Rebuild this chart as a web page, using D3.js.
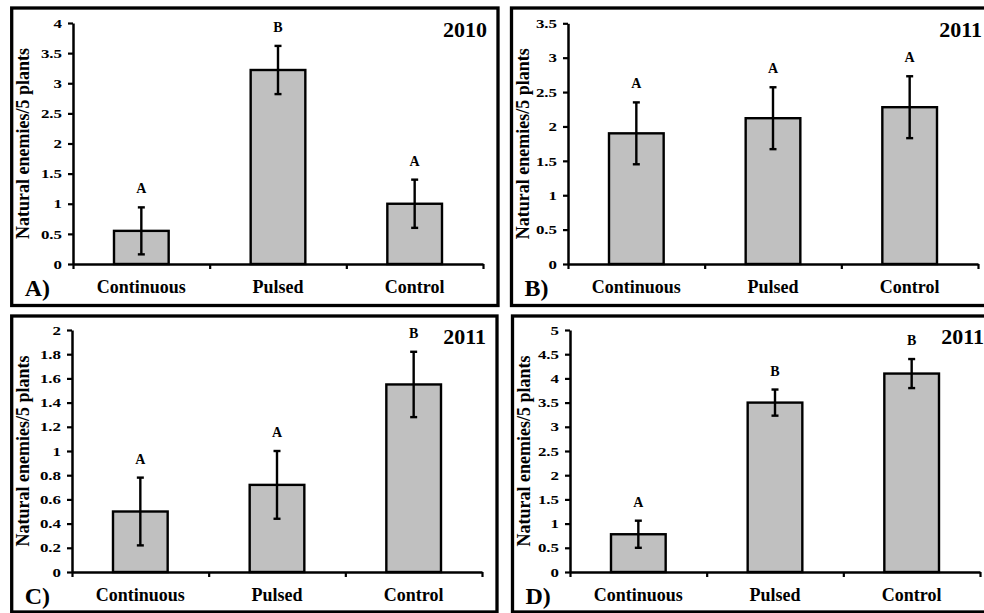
<!DOCTYPE html>
<html>
<head>
<meta charset="utf-8">
<script src="https://cdn.jsdelivr.net/npm/d3@7"></script>
<style>
  html, body { margin: 0; padding: 0; background: #fff; }
  svg { display: block; }
  text { font-family: "Liberation Serif", "Times New Roman", serif; font-weight: bold; fill: #000; }
</style>
</head>
<body>
<svg id="chart" width="984" height="613"></svg>
<script>
// Natural enemies per 5 plants under three release treatments
const categories = ["Continuous", "Pulsed", "Control"];
const panelLabels = ["A)", "B)", "C)", "D)"];
const panelYears = ["2010", "2011", "2011", "2011"];
const yTicks = [
  [0, 0.5, 1, 1.5, 2, 2.5, 3, 3.5, 4],
  [0, 0.5, 1, 1.5, 2, 2.5, 3, 3.5],
  [0, 0.2, 0.4, 0.6, 0.8, 1, 1.2, 1.4, 1.6, 1.8, 2],
  [0, 0.5, 1, 1.5, 2, 2.5, 3, 3.5, 4, 4.5, 5]
];
const meansA = [0.55, 3.22, 1.0];
const meansB = [1.9, 2.12, 2.28];
const meansC = [0.5, 0.72, 1.55];
const meansD = [0.78, 3.5, 4.1];
const errA = [0.39, 0.4, 0.4];
const errB = [0.45, 0.45, 0.45];
const errC = [0.28, 0.28, 0.27];
const errD = [0.28, 0.27, 0.3];
const lettersA = ["A", "B", "A"];
const lettersB = ["A", "A", "A"];
const lettersC = ["A", "A", "B"];
const lettersD = ["A", "B", "B"];
const yLabel = "Natural enemies/5 plants";

const means = [meansA, meansB, meansC, meansD];
const errs = [errA, errB, errC, errD];
const letters = [lettersA, lettersB, lettersC, lettersD];

// Panel geometry: outer frame and plotting area
const layout = [
  { frame: [11.7, 8, 498, 305.5], plot: { x0: 73, x1: 483, y0: 264, y1: 23 } },
  { frame: [511.5, 8, 992, 305.5], plot: { x0: 568, x1: 978, y0: 264, y1: 23.3 } },
  { frame: [11.7, 316, 497, 612], plot: { x0: 72, x1: 482, y0: 572, y1: 330 } },
  { frame: [512.5, 316, 992, 612], plot: { x0: 570, x1: 980, y0: 572, y1: 330 } }
];

const svg = d3.select("#chart");

layout.forEach((L, i) => {
  const g = svg.append("g");
  const [fx0, fy0, fx1, fy1] = L.frame;
  const p = L.plot;

  g.append("rect")
    .attr("x", fx0).attr("y", fy0)
    .attr("width", fx1 - fx0).attr("height", fy1 - fy0)
    .attr("fill", "none").attr("stroke", "#000").attr("stroke-width", 3.3);

  const tv = yTicks[i];
  const y = d3.scaleLinear().domain([0, tv[tv.length - 1]]).range([p.y0, p.y1]);
  const x = d3.scaleBand().domain(categories).range([p.x0, p.x1]).paddingInner(0.6).paddingOuter(0.3);
  const xEdge = d3.scaleLinear().domain([0, categories.length]).range([p.x0, p.x1]);

  // bars
  g.selectAll("rect.bar").data(categories).join("rect")
    .attr("class", "bar")
    .attr("x", d => x(d))
    .attr("width", x.bandwidth())
    .attr("y", (d, j) => y(means[i][j]))
    .attr("height", (d, j) => y(0) - y(means[i][j]))
    .attr("fill", "#c0c0c0")
    .attr("stroke", "#000").attr("stroke-width", 2.4);

  // error bars
  const cx = d => x(d) + x.bandwidth() / 2;
  const eb = g.selectAll("g.err").data(categories).join("g").attr("class", "err");
  eb.append("line")
    .attr("x1", cx).attr("x2", cx)
    .attr("y1", (d, j) => y(means[i][j] - errs[i][j]))
    .attr("y2", (d, j) => y(means[i][j] + errs[i][j]))
    .attr("stroke", "#000").attr("stroke-width", 2.4);
  [-1, 1].forEach(s => {
    eb.append("line")
      .attr("x1", d => cx(d) - 3.5).attr("x2", d => cx(d) + 3.5)
      .attr("y1", (d, j) => y(means[i][j] + s * errs[i][j]))
      .attr("y2", (d, j) => y(means[i][j] + s * errs[i][j]))
      .attr("stroke", "#000").attr("stroke-width", 2.4);
  });

  // significance letters
  g.selectAll("text.sig").data(categories).join("text")
    .attr("class", "sig")
    .attr("x", cx)
    .attr("y", (d, j) => y(means[i][j] + errs[i][j]) - 14)
    .attr("text-anchor", "middle")
    .attr("font-size", 14)
    .text((d, j) => letters[i][j]);

  // y axis
  const yAxis = g.append("g")
    .attr("transform", `translate(${p.x0},0)`)
    .call(d3.axisLeft(y).tickValues(tv).tickFormat(d => String(+d.toFixed(1)))
      .tickSize(5).tickSizeOuter(0).tickPadding(6));
  yAxis.select(".domain").attr("stroke-width", 2.5);
  yAxis.selectAll(".tick line").attr("stroke-width", 2.2);
  yAxis.selectAll(".tick text")
    .attr("font-size", 13)
    .attr("font-family", "Liberation Serif, serif")
    .attr("font-weight", "bold")
    .each(function () {
      const w = this.getComputedTextLength();
      d3.select(this).attr("textLength", w * 1.3).attr("lengthAdjust", "spacingAndGlyphs");
    });

  // x axis with ticks at category boundaries
  const xAxis = g.append("g")
    .attr("transform", `translate(0,${p.y0})`)
    .call(d3.axisBottom(xEdge).tickValues(d3.range(categories.length + 1))
      .tickFormat("").tickSize(5).tickSizeOuter(0));
  xAxis.select(".domain").attr("stroke-width", 2.5);
  xAxis.selectAll(".tick line").attr("stroke-width", 2.2);

  // category labels
  g.selectAll("text.cat").data(categories).join("text")
    .attr("class", "cat")
    .attr("x", cx)
    .attr("y", p.y0 + 29)
    .attr("text-anchor", "middle")
    .attr("font-size", 18)
    .text(d => d);

  // y axis title
  g.append("text")
    .attr("transform", `translate(${fx0 + 17},${(p.y0 + p.y1) / 2}) rotate(-90)`)
    .attr("text-anchor", "middle")
    .attr("font-size", 18)
    .text(yLabel);

  // panel letter
  g.append("text")
    .attr("x", fx0 + 13)
    .attr("y", p.y0 + 32)
    .attr("font-size", 24)
    .text(panelLabels[i]);

  // year
  g.append("text")
    .attr("x", p.x1 + 4)
    .attr("y", p.y1 + 14)
    .attr("text-anchor", "end")
    .attr("font-size", 22)
    .text(panelYears[i]);
});
</script>
</body>
</html>
